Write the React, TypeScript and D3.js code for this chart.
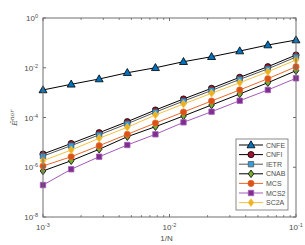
import React from "react";
import * as d3 from "d3";

const invN = [0.001, 0.00167, 0.00278, 0.00464, 0.00774, 0.0129, 0.0215, 0.0359, 0.0599, 0.1];
const cnfe = [1.28e-3, 2.16e-3, 3.53e-3, 6.3e-3, 1.0e-2, 1.75e-2, 2.78e-2, 4.7e-2, 8.2e-2, 0.13];
const cnfi = [3.4e-6, 9.0e-6, 2.45e-5, 6.8e-5, 2.0e-4, 5.55e-4, 1.49e-3, 4.13e-3, 1.1e-2, 3.26e-2];
const ietr = [2.8e-6, 7.4e-6, 2.0e-5, 5.6e-5, 1.65e-4, 4.55e-4, 1.22e-3, 3.4e-3, 9.0e-3, 2.7e-2];
const cnab = [7.1e-7, 1.83e-6, 5.27e-6, 1.69e-5, 4.27e-5, 1.15e-4, 3.18e-4, 8.8e-4, 2.5e-3, 7.6e-3];
const mcs = [1.12e-6, 2.65e-6, 7.35e-6, 2.11e-5, 6.0e-5, 1.66e-4, 4.6e-4, 1.28e-3, 3.63e-3, 1.1e-2];
const mcs2 = [1.93e-7, 8.3e-7, 2.65e-6, 7.85e-6, 2.11e-5, 6.4e-5, 1.71e-4, 4.73e-4, 1.28e-3, 3.77e-3];
const sc2a = [1.83e-6, 4.93e-6, 1.46e-5, 4.04e-5, 1.26e-4, 3.49e-4, 9.4e-4, 2.5e-3, 6.9e-3, 2.05e-2];

const seriesNames = ["CNFE", "CNFI", "IETR", "CNAB", "MCS", "MCS2", "SC2A"];
const seriesData = [cnfe, cnfi, ietr, cnab, mcs, mcs2, sc2a];
const xTickExps = [-3, -2, -1];
const yTickExps = [0, -2, -4, -6, -8];

type Style = { line: string; fill: string; edge: string; shape: string };
const styles: Style[] = [
  { line: "#000", fill: "#0072BD", edge: "#000", shape: "tri" },
  { line: "#000", fill: "#A2142F", edge: "#000", shape: "circ" },
  { line: "#555", fill: "#2f9fe0", edge: "#555", shape: "sq" },
  { line: "#000", fill: "#77AC30", edge: "#000", shape: "dia" },
  { line: "#E8692A", fill: "#D95319", edge: "#E8692A", shape: "circ" },
  { line: "#A45ABA", fill: "#7E2F8E", edge: "#A45ABA", shape: "sq" },
  { line: "#F5C040", fill: "#EDB120", edge: "#F5C040", shape: "dia" },
];

function markerPath(shape: string): string {
  switch (shape) {
    case "tri":
      return "M0,-4.2L4,2.8L-4,2.8Z";
    case "circ":
      return "M3.1,0A3.1,3.1 0 1,1 -3.1,0A3.1,3.1 0 1,1 3.1,0Z";
    case "sq":
      return "M-2.7,-2.7L2.7,-2.7L2.7,2.7L-2.7,2.7Z";
    default:
      return "M0,-3.8L2.8,0L0,3.8L-2.8,0Z";
  }
}

const L = 43, R = 296, T = 18, B = 217;
const FONT = "'Liberation Sans', Arial, sans-serif";

export default function App() {
  const x = d3.scaleLog().domain([1e-3, 1e-1]).range([L, R]);
  const y = d3.scaleLog().domain([1e-8, 1]).range([B, T]);
  const line = d3
    .line<number>()
    .x((_, i) => x(invN[i]))
    .y((d) => y(d));

  const minorX: number[] = [];
  [1e-3, 1e-2].forEach((base) => {
    for (let k = 2; k <= 9; k++) minorX.push(base * k);
  });
  const axisColor = "#6e6e6e";
  const textColor = "#4d4d4d";

  const legX = 236, legY = 139, legW = 52, legH = 71;

  return (
    <svg
      width={305}
      height={245}
      style={{ position: "absolute", left: 0, top: 0, background: "#fff" }}
      fontFamily={FONT}
    >
      <rect x={0} y={0} width={305} height={245} fill="#fff" />
      {seriesData.map((data, si) => (
        <g key={seriesNames[si]}>
          <path d={line(data) || ""} fill="none" stroke={styles[si].line} strokeWidth={1} />
          {data.map((v, i) => (
            <path
              key={i}
              d={markerPath(styles[si].shape)}
              transform={`translate(${x(invN[i])},${y(v)})`}
              fill={styles[si].fill}
              stroke={styles[si].edge}
              strokeWidth={0.8}
            />
          ))}
        </g>
      ))}
      <rect x={L} y={T} width={R - L} height={B - T} fill="none" stroke={axisColor} strokeWidth={1} />
      {xTickExps.map((e) => {
        const px = x(Math.pow(10, e));
        return (
          <g key={e}>
            <line x1={px} x2={px} y1={B} y2={B - 3} stroke={axisColor} />
            <line x1={px} x2={px} y1={T} y2={T + 3} stroke={axisColor} />
            <text x={px} y={B + 13} textAnchor="middle" fontSize={8} fill={textColor}>
              10<tspan dy={-3} fontSize={5.5}>{e}</tspan>
            </text>
          </g>
        );
      })}
      {minorX.map((v) => {
        const px = x(v);
        return (
          <g key={v}>
            <line x1={px} x2={px} y1={B} y2={B - 1.8} stroke={axisColor} />
            <line x1={px} x2={px} y1={T} y2={T + 1.8} stroke={axisColor} />
          </g>
        );
      })}
      {yTickExps.map((e) => {
        const py = y(Math.pow(10, e));
        return (
          <g key={e}>
            <line x1={L} x2={L + 3} y1={py} y2={py} stroke={axisColor} />
            <line x1={R} x2={R - 3} y1={py} y2={py} stroke={axisColor} />
            <text x={L - 5} y={py + 3} textAnchor="end" fontSize={8} fill={textColor}>
              10<tspan dy={-3} fontSize={5.5}>{e}</tspan>
            </text>
          </g>
        );
      })}
      <text x={(L + R) / 2 - 3} y={241} textAnchor="middle" fontSize={8} fill={textColor}>
        1/N
      </text>
      <g transform="translate(17,118) rotate(-90)">
        <text x={0} y={0} textAnchor="middle" fontSize={8} fill={textColor} fontStyle="italic" fontFamily="'DejaVu Serif', serif">
          Ê<tspan dy={-3} fontSize={6}>nor</tspan>
        </text>
      </g>
      <rect x={legX} y={legY} width={legW} height={legH} fill="#fff" stroke={axisColor} strokeWidth={0.8} />
      {seriesNames.map((name, si) => {
        const ly = legY + 6 + si * 9.6;
        return (
          <g key={name}>
            <line x1={legX + 3} x2={legX + 27} y1={ly} y2={ly} stroke={styles[si].line} strokeWidth={1} />
            <path
              d={markerPath(styles[si].shape)}
              transform={`translate(${legX + 15},${ly})`}
              fill={styles[si].fill}
              stroke={styles[si].edge}
              strokeWidth={0.8}
            />
            <text x={legX + 30} y={ly + 2.5} fontSize={7} fill={textColor}>
              {name}
            </text>
          </g>
        );
      })}
    </svg>
  );
}
